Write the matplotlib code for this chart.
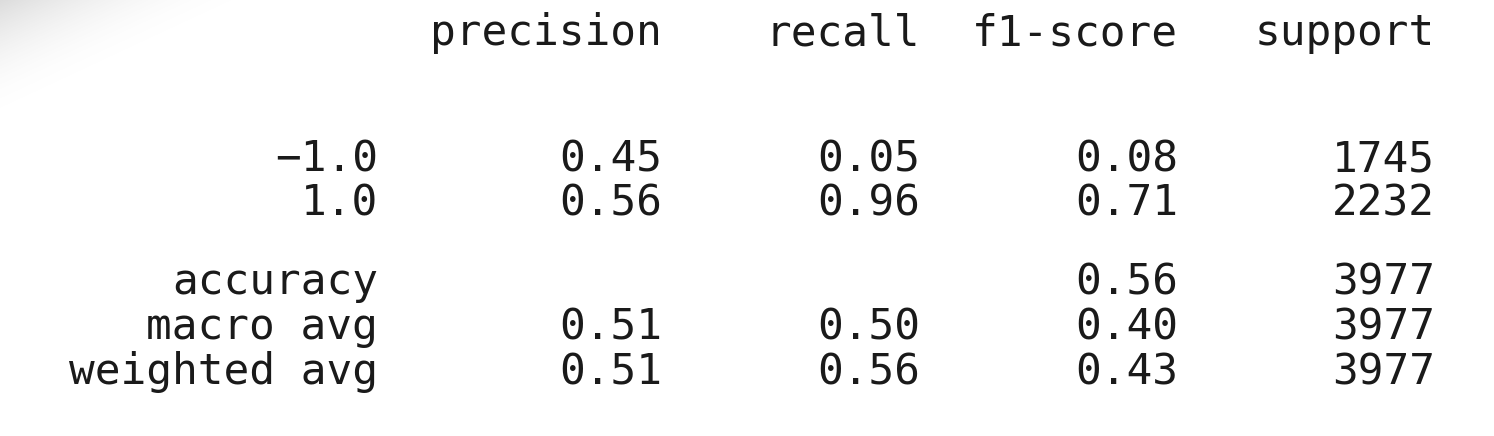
import matplotlib
matplotlib.use("Agg")
import matplotlib.pyplot as plt
import numpy as np

headers = ["precision", "recall", "f1-score", "support"]
row_labels = ["\u22121.0", "1.0", "accuracy", "macro avg", "weighted avg"]
precision = ["0.45", "0.56", "", "0.51", "0.51"]
recall = ["0.05", "0.96", "", "0.50", "0.56"]
f1 = ["0.08", "0.71", "0.56", "0.40", "0.43"]
support = ["1745", "2232", "3977", "3977", "3977"]

W, H = 1494, 436
fig = plt.figure(figsize=(W/100, H/100), dpi=100)
fig.patch.set_facecolor("white")

ax = fig.add_axes([0, 0, 1, 1])
ax.set_xlim(0, W); ax.set_ylim(H, 0); ax.axis("off")
yy, xx = np.mgrid[0:120, 0:260]
d = np.clip(1 - (xx/260 + yy/120), 0, 1)
img = np.ones((120, 260, 4)); img[..., :3] = 0.6; img[..., 3] = 0.35 * d**2
ax.imshow(img, extent=(0, 260, 120, 0), zorder=0)

col_x = [662, 920, 1178, 1435]
label_x = 378
header_y = 33
row_y = [159, 203, 282, 327, 372]
fs = 30.8
kw = dict(family="DejaVu Sans Mono", fontsize=fs, color="#1a1a1a", ha="right", va="center")

for h, x in zip(headers, col_x):
    ax.text(x, header_y, h, **kw)
cols = [precision, recall, f1, support]
for i, y in enumerate(row_y):
    ax.text(label_x, y, row_labels[i], **kw)
    for c, x in zip(cols, col_x):
        if c[i]:
            ax.text(x, y, c[i], **kw)

fig.savefig("out.png", dpi=100)
